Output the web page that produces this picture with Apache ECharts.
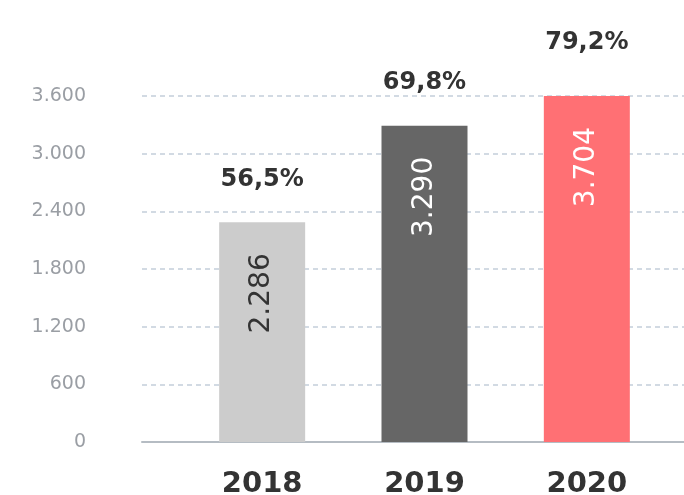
<!DOCTYPE html>
<html lang="pt">
<head>
    <meta charset="UTF-8">
    <title>Gráfico</title>
    <script src="https://cdn.jsdelivr.net/npm/echarts@6/dist/echarts.min.js"></script>
    <style>
        html, body { margin: 0; padding: 0; background: #fff; }
        #container { width: 684px; height: 495px; }
    </style>
</head>
<body>
<div id="container"></div>
<script type="text/javascript">
    let anos = ['2018', '2019', '2020'];
    let valores = [2286, 3290, 3704];
    let percentuais = ['56,5%', '69,8%', '79,2%'];
    let cores = ['#cccccc', '#666666', '#ff7074'];
    let corTexto = ['#333333', '#ffffff', '#ffffff'];
    let yMax = 3600, yStep = 600;

    let fonte = '"DejaVu Sans", Verdana, sans-serif';
    let dom = document.getElementById("container");
    let myChart = echarts.init(dom);

    function fmtMilhar(v) {
        return String(v).replace(/\B(?=(\d{3})+(?!\d))/g, '.');
    }

    let option = {
        animation: false,
        textStyle: { fontFamily: fonte },
        grid: [
            { left: 142, right: 0, top: 96, bottom: 53, outerBoundsMode: 'none', containLabel: false },   // eixo y + linhas
            { left: 181, right: 16, top: 96, bottom: 53, outerBoundsMode: 'none', containLabel: false }   // barras
        ],
        xAxis: [
            {
                type: 'category',
                gridIndex: 0,
                data: [''],
                axisLine: { lineStyle: { color: '#b5bcc3', width: 2 } },
                axisTick: { show: false },
                axisLabel: { show: false }
            },
            {
                type: 'category',
                gridIndex: 1,
                data: anos,
                axisLine: { show: false },
                axisTick: { show: false },
                axisLabel: {
                    color: '#333333',
                    fontSize: 29,
                    fontWeight: 'bold',
                    fontFamily: fonte,
                    margin: 28
                }
            }
        ],
        yAxis: [
            {
                type: 'value',
                gridIndex: 0,
                min: 0,
                max: yMax,
                interval: yStep,
                axisLine: { show: false },
                axisTick: { show: false },
                axisLabel: {
                    color: '#9a9ea4',
                    fontSize: 19,
                    fontFamily: fonte,
                    margin: 56,
                    formatter: function (v) { return fmtMilhar(v); }
                },
                splitLine: {
                    lineStyle: { color: '#d2dae3', width: 2, type: [5, 4] }
                }
            },
            {
                type: 'value',
                gridIndex: 1,
                min: 0,
                max: yMax,
                interval: yStep,
                show: false,
                splitLine: { show: false }
            }
        ],
        series: [
            {
                name: 'valor',
                type: 'bar',
                xAxisIndex: 1,
                yAxisIndex: 1,
                barWidth: 86,
                clip: true,
                z: 3,
                data: valores.map(function (v, i) {
                    return {
                        value: v,
                        itemStyle: { color: cores[i] },
                        label: { color: corTexto[i] }
                    };
                }),
                label: {
                    show: true,
                    position: 'insideTop',
                    distance: 31,
                    rotate: 90,
                    align: 'right',
                    verticalAlign: 'middle',
                    fontSize: 28,
                    fontFamily: fonte,
                    formatter: function (p) { return fmtMilhar(p.value); }
                }
            },
            {
                name: 'percentual',
                type: 'bar',
                xAxisIndex: 1,
                yAxisIndex: 1,
                barWidth: 86,
                barGap: '-100%',
                clip: false,
                z: 1,
                silent: true,
                itemStyle: { color: 'rgba(0,0,0,0)' },
                data: valores,
                label: {
                    show: true,
                    position: 'top',
                    distance: 31,
                    color: '#333333',
                    fontSize: 24,
                    fontWeight: 'bold',
                    fontFamily: fonte,
                    formatter: function (p) { return percentuais[p.dataIndex]; }
                }
            }
        ]
    };
    myChart.setOption(option);
</script>
</body>
</html>
